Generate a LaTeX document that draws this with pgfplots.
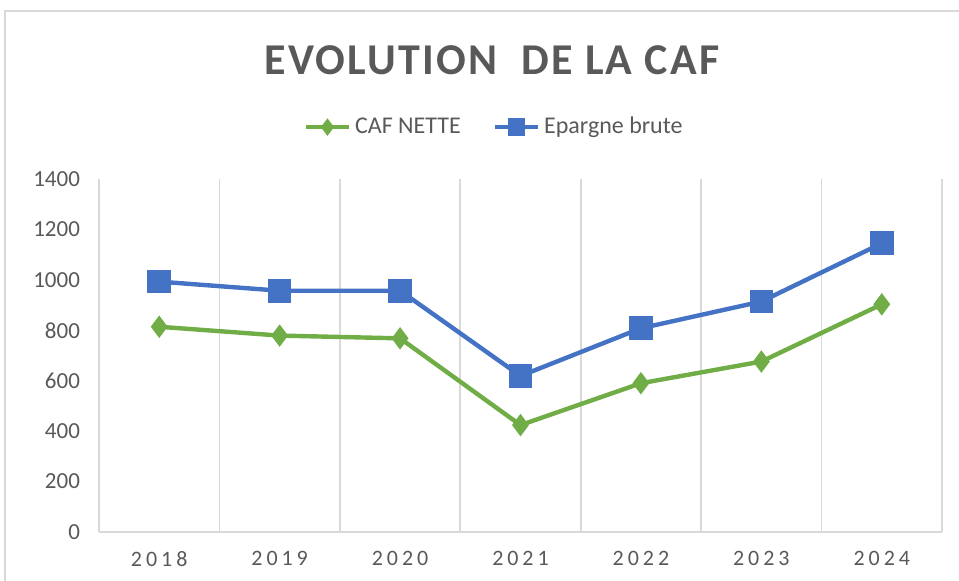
\documentclass[border=0pt]{standalone}
\usepackage{fontspec}
\setmainfont{Carlito}
\newfontfamily\spaced[LetterSpace=18]{Carlito}
\newfontfamily\titlefont[LetterSpace=5]{Carlito}
\usepackage{pgfplots}
\pgfplotsset{compat=1.18}
\definecolor{cafgreen}{HTML}{70AD47}
\definecolor{epblue}{HTML}{4472C4}
\definecolor{txtgray}{HTML}{595959}
\definecolor{gridgray}{HTML}{D9D9D9}
\begin{document}
\begin{tikzpicture}
\useasboundingbox (0,0) rectangle (479.5pt,290pt);
\draw[gridgray, line width=1pt] (2.5pt,-20pt) rectangle (500pt,284.5pt);
\node[text=txtgray, font=\titlefont\bfseries\fontsize{22}{26}\selectfont] at (246pt,260pt) {EVOLUTION\ \ DE LA CAF};
\begin{axis}[
  at={(49.5pt,24pt)}, anchor=south west,
  scale only axis,
  width=421.5pt, height=176.5pt,
  xmin=-0.5, xmax=6.5,
  ymin=0, ymax=1400,
  ytick={0,200,...,1400},
  xtick={0,...,6},
  xticklabels={2018,2019,2020,2021,2022,2023,2024},
  minor xtick={-0.5,0.5,...,6.5},
  minor x grid style={gridgray, line width=0.8pt},
  xminorgrids=true,
  major tick length=0pt, minor tick length=0pt,
  axis x line*=bottom, axis y line*=left,
  x axis line style={gridgray, line width=0.8pt, -},
  y axis line style={gridgray, line width=0.8pt, -},
  /pgf/number format/assume math mode=true,
  /pgf/number format/1000 sep={},
  tick label style={text=txtgray},
  yticklabel style={font=\fontsize{11.5}{13}\selectfont, xshift=-6pt},
  xticklabel style={font=\spaced\fontsize{11}{13}\selectfont, yshift=-6pt},
  legend columns=2,
  legend style={at={(0.47,1.147)}, anchor=center, draw=none, fill=none,
    font=\fontsize{12}{14}\selectfont, text=txtgray,
    /tikz/every even column/.append style={column sep=14pt}},
  legend image code/.code={
    \draw[#1, line width=2pt, every mark/.append style={scale=0.72}, mark repeat=2, mark phase=2]
      plot coordinates {(0cm,0cm) (0.38cm,0cm) (0.76cm,0cm)};
  },
]
\addplot[cafgreen, line width=2.2pt, mark=diamond*, mark size=3.8pt, mark options={solid}]
  coordinates {(0,814) (1,779) (2,768) (3,424) (4,590) (5,676) (6,903)};
\addlegendentry{CAF NETTE}
\addplot[epblue, line width=2.2pt, mark=square*, mark size=4.8pt, mark options={solid}]
  coordinates {(0,993) (1,957) (2,957) (3,619) (4,808) (5,914) (6,1145)};
\addlegendentry{Epargne brute}
\end{axis}
\end{tikzpicture}
\end{document}
